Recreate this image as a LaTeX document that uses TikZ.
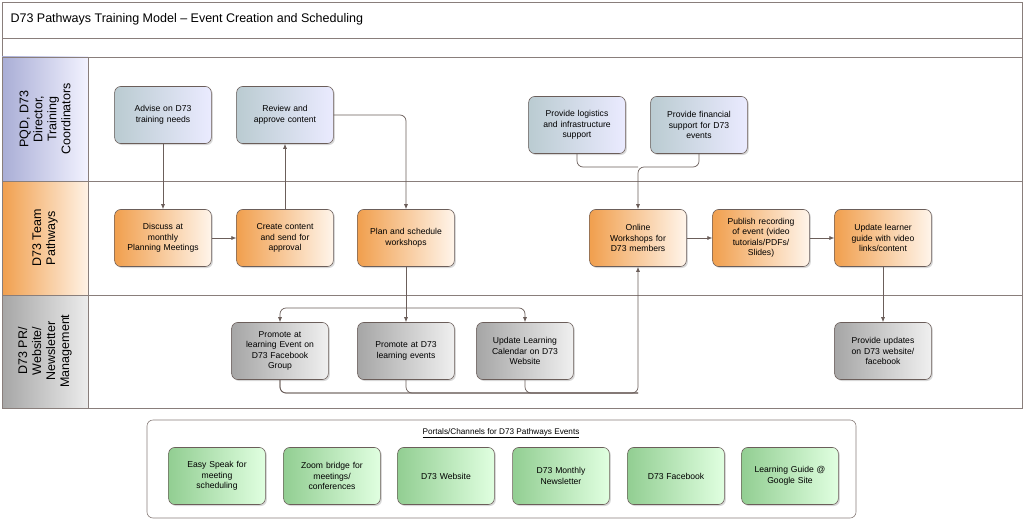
\documentclass[tikz,border=0pt]{standalone}
\usepackage{fontspec}
\setmainfont{Liberation Sans}
\usetikzlibrary{arrows.meta,shadows}
\definecolor{ln}{HTML}{6B5E5A}
\begin{document}
\begin{tikzpicture}[x=1pt,y=-1pt,
  box/.style={draw=ln,line width=0.6pt,rounded corners=6pt,minimum width=95pt,minimum height=57pt,text width=90pt,align=center,font=\fontsize{8.6}{10.5}\selectfont,drop shadow={opacity=0.3,shadow xshift=1.5pt,shadow yshift=-1.5pt}},
  bl/.style={box,left color=blue!25!cyan!20!gray!45,right color=white!92!blue},
  or/.style={box,left color=orange!70!brown!75,right color=orange!8!white},
  gr/.style={box,left color=gray!70,right color=gray!12},
  gn/.style={box,left color=green!55!black!45!white!95,right color=green!12!white},
  con/.style={draw=ln,line width=0.7pt,rounded corners=6pt},
  arr/.style={con,-{Latex[length=5pt,width=4pt]}},
  frame/.style={draw=ln!80,line width=0.6pt}]
\useasboundingbox (0,0) rectangle (1024,519);
\fill[white] (0,0) rectangle (1024,519);
% frame
\draw[frame] (2,2) rectangle (1022,408);
\draw[frame] (2,38) -- (1022,38) (2,57) -- (1022,57) (2,181) -- (1022,181) (2,295) -- (1022,295);
\node[anchor=west,font=\fontsize{12.5}{14}\selectfont] (title) at (7,19) {D73 Pathways Training Model – Event Creation and Scheduling};
% lane headers
\path[frame,left color=cyan!10!blue!35!gray!50,right color=blue!5!white] (2,57) rectangle (88,181);
\path[frame,left color=orange!70!brown!75,right color=orange!10!white] (2,181) rectangle (88,295);
\path[frame,left color=gray!70,right color=gray!15] (2,295) rectangle (88,408);
\draw[frame] (88,57) -- (88,408);
\node[rotate=90,align=center,font=\fontsize{12.5}{14}\selectfont] (l1) at (45,119) {PQD, D73\\Director,\\Training\\Coordinators};
\node[rotate=90,align=center,font=\fontsize{12.5}{14}\selectfont] (l2) at (45,238) {D73 Team\\Pathways};
\node[rotate=90,align=center,font=\fontsize{12.5}{14}\selectfont] (l3) at (45,351) {D73 PR/\\Website/\\Newsletter\\Management};
% nodes
\node[bl] (adv) at (163,115) {Advise on D73\\training needs};
\node[bl] (rev) at (285,115) {Review and\\approve content};
\node[bl] (log) at (577,125) {Provide logistics\\and infrastructure\\support};
\node[bl] (fin) at (699,125) {Provide financial\\support for D73\\events};
\node[or] (dis) at (163,238) {Discuss at\\monthly\\Planning Meetings};
\node[or] (cre) at (285,238) {Create content\\and send for\\approval};
\node[or] (pla) at (406,238) {Plan and schedule\\workshops};
\node[or] (onl) at (638,238) {Online\\Workshops for\\D73 members};
\node[or] (pub) at (761,238) {Publish recording\\of event (video\\tutorials/PDFs/\\Slides)};
\node[or] (upl) at (883,238) {Update learner\\guide with video\\links/content};
\node[gr] (pfb) at (280,351) {Promote at\\learning Event on\\D73 Facebook\\Group};
\node[gr] (pd7) at (406,351) {Promote at D73\\learning events};
\node[gr] (cal) at (525,351) {Update Learning\\Calendar on D73\\Website};
\node[gr] (pup) at (883,351) {Provide updates\\on D73 website/\\facebook};
% connectors
\draw[arr] (adv) -- (dis);
\draw[arr] (dis) -- (cre);
\draw[arr] (cre) -- (rev);
\draw[arr] (rev.east) -| (pla.north);
\coordinate (sp) at (406,308);
\draw[con] (pla.south) -- (sp);
\draw[arr] (sp) -| (pfb.north);
\draw[arr] (sp) -- (pd7.north);
\draw[arr] (sp) -| (cal.north);
\coordinate (mg) at (638,393);
\draw[con] (pfb.south) |- (mg);
\draw[con] (pd7.south) |- (mg);
\draw[con] (cal.south) |- (mg);
\draw[arr] (pfb.south) |- (mg) -- (onl.south);
\coordinate (tp) at (638,167);
\draw[con] (log.south) |- (tp);
\draw[arr] (fin.south) |- (tp) -- (onl.north);
\draw[arr] (onl) -- (pub);
\draw[arr] (pub) -- (upl);
\draw[arr] (upl) -- (pup);
% portals
\draw[frame,rounded corners=6pt,fill=white] (147,420) rectangle (856,518);
\node[font=\fontsize{8.2}{10}\selectfont] (pt) at (501,433) {\underline{Portals/Channels for D73 Pathways Events}};
\node[gn] (g1) at (217,476) {Easy Speak for\\meeting\\scheduling};
\node[gn] (g2) at (332,476) {Zoom bridge for\\meetings/\\conferences};
\node[gn] (g3) at (446,476) {D73 Website};
\node[gn] (g4) at (561,476) {D73 Monthly\\Newsletter};
\node[gn] (g5) at (676,476) {D73 Facebook};
\node[gn] (g6) at (790,476) {Learning Guide @\\Google Site};
\end{tikzpicture}
\end{document}
